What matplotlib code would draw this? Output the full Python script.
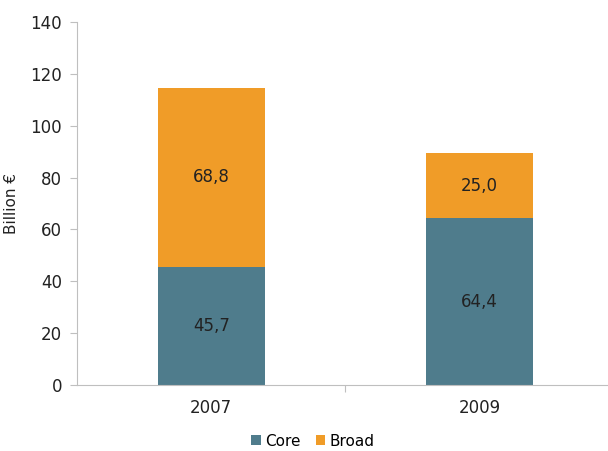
import numpy as np
import matplotlib.pyplot as plt

years = ['2007', '2009']
core = [45.7, 64.4]
broad = [68.8, 25.0]

core_color = '#4f7c8c'
broad_color = '#f09c28'
axis_color = '#bfbfbf'

fig = plt.figure(figsize=(6.08, 4.51), dpi=100)
ax = fig.add_axes([0.127, 0.1463, 0.873, 0.805])

x = np.arange(len(years))
width = 0.40
b1 = ax.bar(x, core, width, color=core_color, label='Core')
b2 = ax.bar(x, broad, width, bottom=core, color=broad_color, label='Broad')

for bars, vals, bottoms in [(b1, core, [0, 0]), (b2, broad, core)]:
    for rect, v, b in zip(bars, vals, bottoms):
        ax.text(rect.get_x() + rect.get_width() / 2, b + v / 2,
                f'{v:.1f}'.replace('.', ','), ha='center', va='center',
                fontsize=12, color='#222222')

ax.set_ylim(0, 140)
ax.set_yticks(np.arange(0, 141, 20))
ax.set_xlim(-0.5, 1.48)
ax.set_xticks([0.5])
ax.set_xticklabels([''])
ax.tick_params(axis='x', length=5, color=axis_color)
ax.tick_params(axis='y', length=5, color=axis_color, labelsize=12, pad=6,
               labelcolor='#222222')
for i, y in enumerate(years):
    ax.text(x[i], -9, y, ha='center', va='center', fontsize=12, color='#222222')

ax.set_ylabel('Billion €', fontsize=11, labelpad=8, color='#222222')
for s in ['top', 'right']:
    ax.spines[s].set_visible(False)
ax.spines['left'].set_color(axis_color)
ax.spines['bottom'].set_color(axis_color)

fig.legend(handles=[b1, b2], labels=['Core', 'Broad'], loc='center',
           bbox_to_anchor=(0.515, 0.022), ncol=2, frameon=False, fontsize=11,
           handlelength=0.6, handleheight=0.6, handletextpad=0.3, columnspacing=1.0)

fig.savefig('out.png', dpi=100)
